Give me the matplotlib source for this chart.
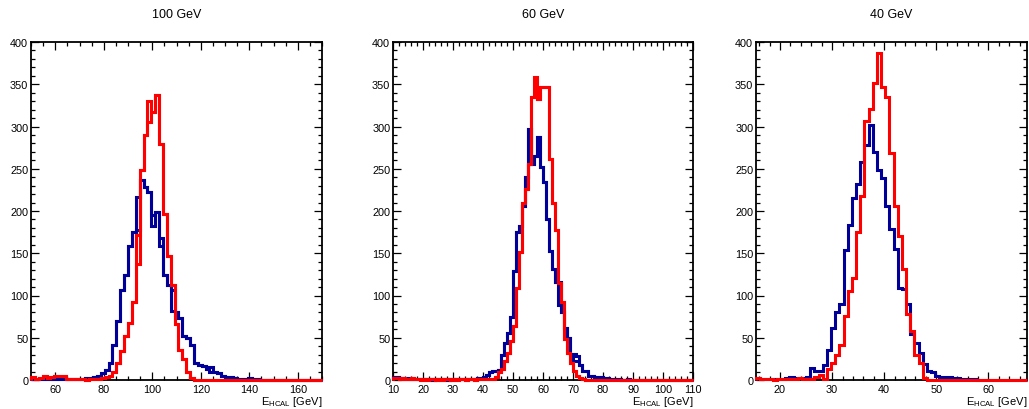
#Histogramas de energia HCAL para tres energias de haz

import numpy as np
import matplotlib.pyplot as plt
from matplotlib.ticker import MultipleLocator

plt.rcParams['font.family'] = ['Liberation Sans', 'DejaVu Sans']
plt.rcParams['mathtext.fontset'] = 'custom'
plt.rcParams['mathtext.rm'] = 'Liberation Sans'
plt.rcParams['mathtext.it'] = 'Liberation Sans:italic'

AZUL = '#000099'
ROJO = '#ff0000'

titulos = ["100 GeV", "60 GeV", "40 GeV"]
etiqueta_x = r"E$_{\mathrm{HCAL}}$ [GeV]"

#Panel 100 GeV: 75 bins de 1.6 GeV entre 50 y 170
p1_rango = (50.0, 170.0)
p1_azul = [1, 1, 1, 1, 1, 1, 1, 1, 1, 1, 1, 1, 1, 1,
           2, 2, 3, 5, 8, 12, 20,
           42, 70, 107, 124, 158, 175, 217,
           237, 228, 222, 182, 199, 168, 124,
           112, 107, 80, 73, 52, 50, 42,
           20, 18, 16, 13, 15, 9, 8,
           5, 4, 3, 2, 1, 1, 1,
           2, 1, 1, 0, 0, 0, 0,
           0, 0, 0, 0, 0, 0, 0, 0, 0, 0, 0, 0]
p1_rojo = [4, 1, 2, 5, 2, 3, 5, 5, 5, 1,
           1, 1, 1, 1, 0, 1, 1, 1, 2, 3,
           5, 9, 20, 34, 52, 68, 92,
           137, 248, 290, 330, 317, 337, 279,
           196, 147, 113, 66, 36, 25, 9,
           2] + [0] * 33
# bins donde el histograma aparece doble (contorno relleno)
p1_azul_alt = {27: 177, 31: 195, 33: 159, 36: 82, 46: 9}
p1_rojo_alt = {27: 172, 30: 305}

#Panel 60 GeV: 100 bins de 1 GeV entre 10 y 110
p2_rango = (10.0, 110.0)
p2_azul = [3, 3, 2, 1, 1, 2, 1, 1, 1, 1,
           1, 1, 1, 0, 1, 1, 1, 1, 0, 1,
           1, 1, 1, 1, 1, 1, 1, 1, 2, 2,
           3, 6, 9, 11, 11, 12, 30, 44, 56, 74,
           129, 175, 182, 206, 240, 297, 256, 265, 287, 252,
           234, 190, 153, 131, 116, 116, 80, 62, 50, 31,
           31, 28, 18, 11, 11, 5, 5, 3, 3, 3,
           2, 2, 1, 1, 1, 1, 0, 0, 1, 0] + [0] * 20
p2_rojo = [2, 2, 1, 2, 1, 1, 2, 1, 1, 0,
           1, 0, 1, 1, 0, 1, 0, 1, 1, 0,
           1, 0, 1, 1, 0, 1, 1, 0, 1, 1,
           1, 1, 1, 1, 3, 9, 13, 22, 32, 46,
           64, 109, 151, 210, 226, 256, 335, 358, 333, 347,
           347, 347, 262, 210, 177, 115, 92, 48, 32, 20,
           11, 5, 2, 1, 0, 0, 0, 0, 0, 0] + [0] * 30
p2_azul_alt = {55: 89, 60: 22, 61: 22}
p2_rojo_alt = {47: 335}

#Panel 40 GeV: 65 bins de 0.8 GeV entre 15.4 y 67.4
p3_rango = (15.4, 67.4)
p3_azul = [2, 1, 1, 1, 1, 1, 1, 2, 3, 2, 2, 2, 4,
           14, 11, 11, 18, 36, 62, 80, 90,
           154, 183, 215, 232, 258, 278, 302, 270,
           248, 239, 206, 179, 155, 109, 108, 90,
           55, 44, 32, 19, 11, 9, 5, 3,
           3, 3, 2, 2, 1, 1, 1, 1] + [0] * 12
p3_rojo = [2, 1, 1, 1, 0, 1, 1, 1, 1, 1, 2, 1, 1,
           1, 4, 6, 1, 13, 20, 30, 42,
           76, 105, 121, 175, 218, 306, 321, 352,
           387, 347, 335, 269, 206, 171, 131, 78,
           58, 30, 20, 2] + [0] * 24
p3_azul_alt = {}
p3_rojo_alt = {}

paneles = [
    (p1_rango, p1_azul, p1_rojo, p1_azul_alt, p1_rojo_alt, 20, 5),
    (p2_rango, p2_azul, p2_rojo, p2_azul_alt, p2_rojo_alt, 10, 2),
    (p3_rango, p3_azul, p3_rojo, p3_azul_alt, p3_rojo_alt, 10, 2),
]

# posiciones de los ejes en pixeles (izq, ancho)
W, H = 1029, 410
cajas = [(31, 291), (393, 300), (756, 271)]
y0, alto = 29, 338


def dibujar_hist(ax, valores, bordes, alt, color):
    ax.stairs(valores, bordes, color=color, lw=2.2, zorder=3, clip_on=False)
    if alt:
        v2 = np.array(valores, dtype=float)
        for i, v in alt.items():
            v2[i] = v
        ax.stairs(v2, bordes, color=color, lw=2.2, zorder=3, clip_on=False)


fig = plt.figure(figsize=(W / 100, H / 100), dpi=100)

for (rango, azul, rojo, azul_alt, rojo_alt, mayor, menor), (x0, ancho), titulo in zip(paneles, cajas, titulos):
    ax = fig.add_axes([x0 / W, y0 / H, ancho / W, alto / H])
    bordes = np.linspace(rango[0], rango[1], len(azul) + 1)

    dibujar_hist(ax, azul, bordes, azul_alt, AZUL)
    dibujar_hist(ax, rojo, bordes, rojo_alt, ROJO)

    ax.set_xlim(rango)
    ax.set_ylim(0, 400)
    ax.xaxis.set_major_locator(MultipleLocator(mayor))
    ax.xaxis.set_minor_locator(MultipleLocator(menor))
    ax.yaxis.set_major_locator(MultipleLocator(50))
    ax.yaxis.set_minor_locator(MultipleLocator(10))
    ax.tick_params(which='both', direction='in', top=True, right=True,
                   labelsize=7.8, width=0.9, colors='black')
    ax.tick_params(which='major', length=6)
    ax.tick_params(which='minor', length=3)
    ax.tick_params(axis='x', pad=3)
    ax.tick_params(axis='y', pad=2)
    for s in ax.spines.values():
        s.set_linewidth(1.3)

    ax.set_xlabel(etiqueta_x, loc='right', fontsize=8, labelpad=0)
    ax.text(0.5, 1 + 28 / alto, titulo, ha='center', va='center',
            fontsize=9, transform=ax.transAxes)

fig.savefig('out.png', dpi=100)
